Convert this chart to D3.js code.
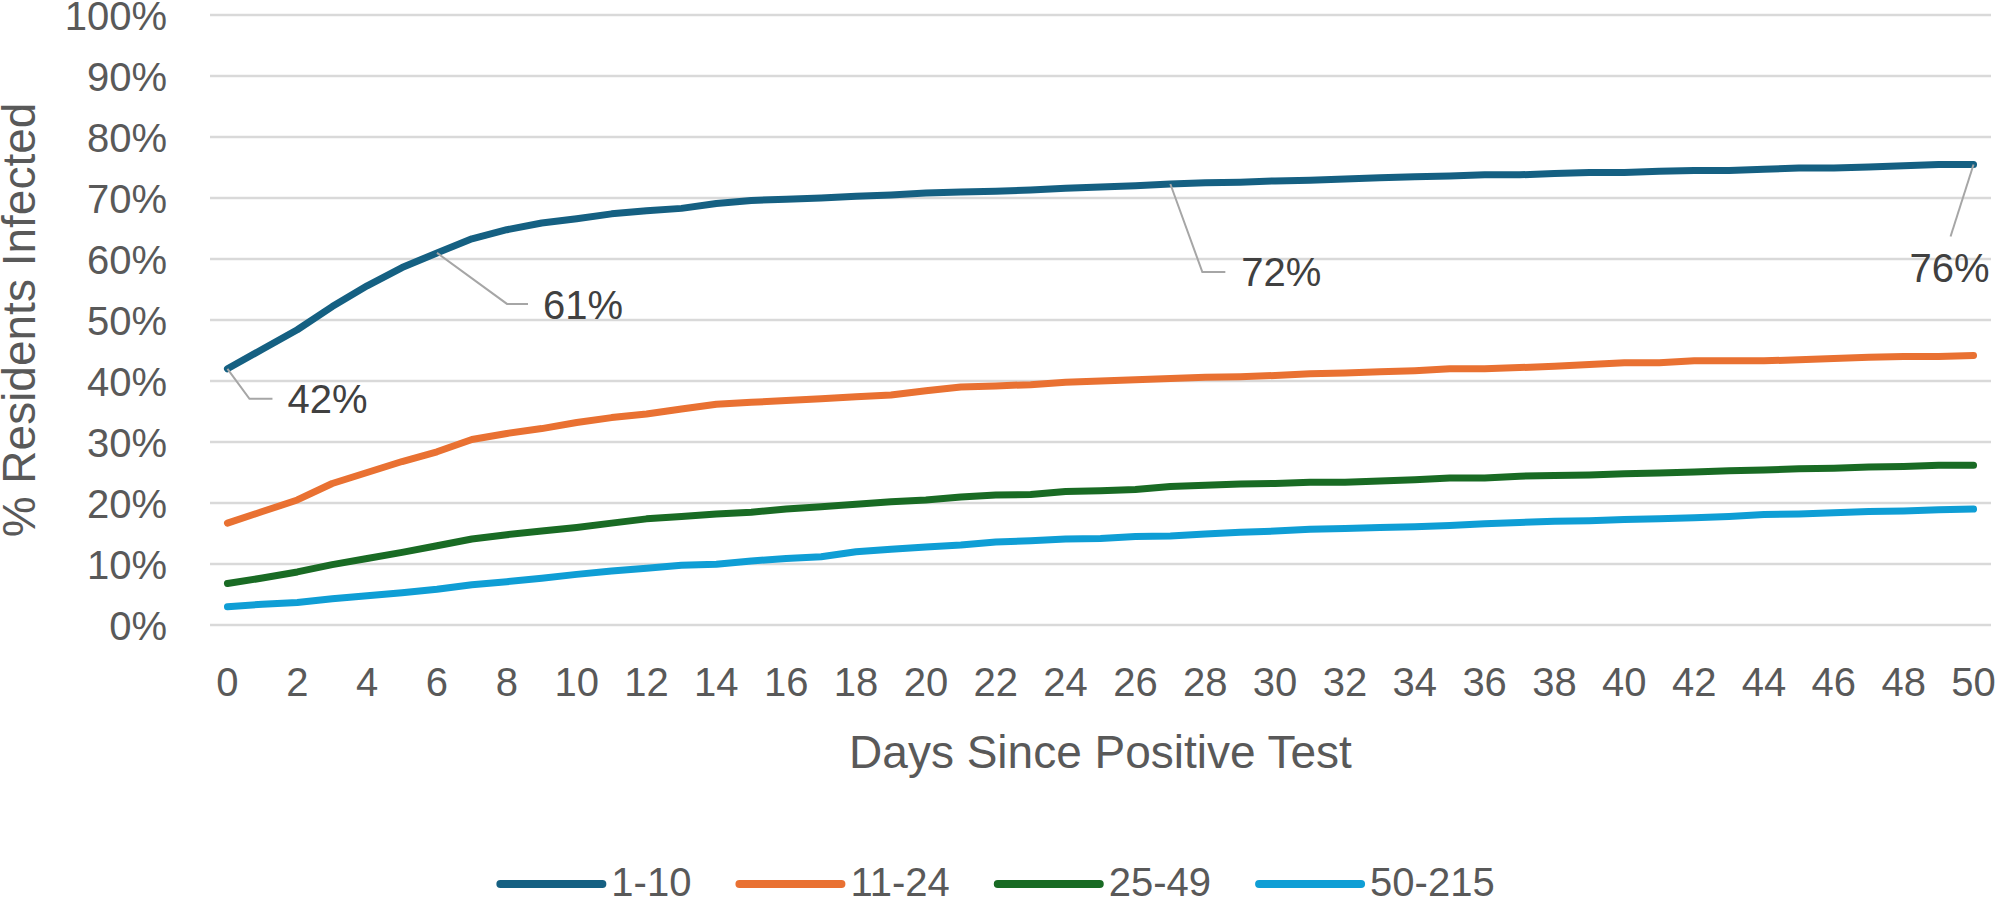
<!DOCTYPE html>
<html lang="en">
<head>
    <meta charset="UTF-8">
    <title>Residents Infected by Days Since Positive Test</title>
    <script src="https://d3js.org/d3.v7.min.js"></script>
    <style>
        body {
            margin: 0;
            background: #ffffff;
            font-family: 'Liberation Sans', Arial, sans-serif;
        }
        .tick-label {
            fill: #595959;
            font-size: 40px;
        }
        .axis-title {
            fill: #595959;
            font-size: 46px;
        }
        .grid line {
            stroke: #d9d9d9;
            stroke-width: 2.5px;
        }
        .series {
            fill: none;
            stroke-width: 7px;
            stroke-linecap: round;
            stroke-linejoin: round;
        }
        .leader {
            fill: none;
            stroke: #a6a6a6;
            stroke-width: 2px;
        }
        .data-label {
            fill: #404040;
            font-size: 40px;
        }
    </style>
</head>
<body>
    <div id="chart"></div>

    <script>
        // days 0..50
        const days = d3.range(0, 51);

        const seriesNames = ["1-10", "11-24", "25-49", "50-215"];
        const seriesColors = ["#156082", "#e97132", "#196b24", "#0f9ed5"];

        // % residents infected
        const small = [42.0, 45.2, 48.4, 52.2, 55.6, 58.6, 61.0, 63.3, 64.8, 65.9,
            66.6, 67.4, 67.9, 68.3, 69.1, 69.6, 69.8, 70.0, 70.3, 70.5,
            70.8, 71.0, 71.1, 71.3, 71.6, 71.8, 72.0, 72.3, 72.5, 72.6,
            72.8, 72.9, 73.1, 73.3, 73.5, 73.6, 73.8, 73.8, 74.0, 74.2,
            74.2, 74.4, 74.5, 74.5, 74.7, 74.9, 74.9, 75.1, 75.3, 75.5, 75.5];
        const medium = [16.7, 18.6, 20.5, 23.2, 25.0, 26.8, 28.4, 30.4, 31.4, 32.2,
            33.2, 34.0, 34.6, 35.4, 36.2, 36.5, 36.8, 37.1, 37.4, 37.7,
            38.4, 39.0, 39.2, 39.4, 39.8, 40.0, 40.2, 40.4, 40.6, 40.7,
            40.9, 41.2, 41.3, 41.5, 41.7, 42.0, 42.0, 42.2, 42.4, 42.7,
            43.0, 43.0, 43.3, 43.3, 43.3, 43.5, 43.7, 43.9, 44.0, 44.0, 44.2];
        const large = [6.8, 7.7, 8.7, 9.9, 10.9, 11.9, 13.0, 14.1, 14.8, 15.4,
            16.0, 16.7, 17.4, 17.8, 18.2, 18.5, 19.0, 19.4, 19.8, 20.2,
            20.5, 21.0, 21.3, 21.4, 21.9, 22.0, 22.2, 22.7, 22.9, 23.1,
            23.2, 23.4, 23.4, 23.6, 23.8, 24.1, 24.1, 24.4, 24.5, 24.6,
            24.8, 24.9, 25.1, 25.3, 25.4, 25.6, 25.7, 25.9, 26.0, 26.2, 26.2];
        const largest = [3.0, 3.4, 3.7, 4.3, 4.8, 5.3, 5.85, 6.6, 7.1, 7.65,
            8.3, 8.85, 9.3, 9.8, 9.95, 10.5, 10.9, 11.2, 12.0, 12.4,
            12.8, 13.1, 13.6, 13.8, 14.1, 14.2, 14.5, 14.6, 14.9, 15.2,
            15.4, 15.7, 15.8, 16.0, 16.1, 16.3, 16.6, 16.8, 17.0, 17.1,
            17.3, 17.4, 17.6, 17.8, 18.1, 18.2, 18.4, 18.6, 18.7, 18.9, 19.0];

        const seriesValues = [small, medium, large, largest];

        const yTicks = d3.range(0, 101, 10);
        const xTicks = days.filter(d => d % 2 === 0);

        // labelled points on the 1-10 series: day, text
        const labelDays = [0, 6, 27, 50];
        const labelTexts = ["42%", "61%", "72%", "76%"];

        const width = 1995;
        const height = 899;
        const plot = { left: 210, right: 1991, top: 15, bottom: 625 };

        const svg = d3.select("#chart")
            .append("svg")
            .attr("width", width)
            .attr("height", height);

        const x = d3.scalePoint()
            .domain(days)
            .range([plot.left, plot.right])
            .padding(0.5);

        const y = d3.scaleLinear()
            .domain([0, 100])
            .range([plot.bottom, plot.top]);

        // gridlines
        svg.append("g")
            .attr("class", "grid")
            .selectAll("line")
            .data(yTicks)
            .join("line")
            .attr("x1", plot.left)
            .attr("x2", plot.right)
            .attr("y1", d => y(d))
            .attr("y2", d => y(d));

        // y tick labels
        svg.append("g")
            .selectAll("text")
            .data(yTicks)
            .join("text")
            .attr("class", "tick-label")
            .attr("x", 167)
            .attr("y", d => y(d))
            .attr("dy", "0.38em")
            .attr("text-anchor", "end")
            .text(d => d + "%");

        // x tick labels
        svg.append("g")
            .selectAll("text")
            .data(xTicks)
            .join("text")
            .attr("class", "tick-label")
            .attr("x", d => x(d))
            .attr("y", 696)
            .attr("text-anchor", "middle")
            .text(d => d);

        // axis titles
        svg.append("text")
            .attr("class", "axis-title")
            .attr("x", (plot.left + plot.right) / 2)
            .attr("y", 768)
            .attr("text-anchor", "middle")
            .text("Days Since Positive Test");

        svg.append("text")
            .attr("class", "axis-title")
            .attr("transform", `translate(35, ${(plot.top + plot.bottom) / 2}) rotate(-90)`)
            .attr("text-anchor", "middle")
            .text("% Residents Infected");

        // lines
        const line = d3.line()
            .x((d, i) => x(days[i]))
            .y(d => y(d));

        svg.append("g")
            .selectAll("path")
            .data(seriesValues)
            .join("path")
            .attr("class", "series")
            .attr("stroke", (d, i) => seriesColors[i])
            .attr("d", line);

        // data labels with leader lines
        const labels = svg.append("g");
        labelDays.forEach((day, i) => {
            const px = x(day);
            const py = y(small[day]);
            let pts, tx, ty, anchor = "start";
            if (i === 3) {
                pts = [[px, py], [px - 23, py + 72]];
                tx = px - 24; ty = py + 103; anchor = "middle";
            } else if (i === 2) {
                pts = [[px, py], [px + 32, py + 88], [px + 55, py + 88]];
                tx = px + 71; ty = py + 88;
            } else if (i === 1) {
                pts = [[px, py], [px + 70, py + 51], [px + 91, py + 51]];
                tx = px + 106; ty = py + 52;
            } else {
                pts = [[px, py], [px + 22, py + 30], [px + 45, py + 30]];
                tx = px + 60; ty = py + 30;
            }
            labels.append("path")
                .attr("class", "leader")
                .attr("d", d3.line()(pts));
            labels.append("text")
                .attr("class", "data-label")
                .attr("x", tx)
                .attr("y", ty)
                .attr("dy", "0.36em")
                .attr("text-anchor", anchor)
                .text(labelTexts[i]);
        });

        // legend, centred under the chart
        const legend = svg.append("g");
        const lineLen = 102, textGap = 9, itemGap = 48;
        let cursor = 0;
        seriesNames.forEach((name, i) => {
            const item = legend.append("g").attr("transform", `translate(${cursor},0)`);
            item.append("line")
                .attr("x1", 0).attr("x2", lineLen)
                .attr("y1", 0).attr("y2", 0)
                .attr("stroke", seriesColors[i])
                .attr("stroke-width", 8)
                .attr("stroke-linecap", "round");
            const t = item.append("text")
                .attr("class", "tick-label")
                .attr("x", lineLen + textGap)
                .attr("y", 12)
                .text(name);
            cursor += lineLen + textGap + t.node().getComputedTextLength() + itemGap;
        });
        const legendWidth = cursor - itemGap;
        legend.attr("transform", `translate(${width / 2 - legendWidth / 2}, 884)`);
    </script>
</body>
</html>
